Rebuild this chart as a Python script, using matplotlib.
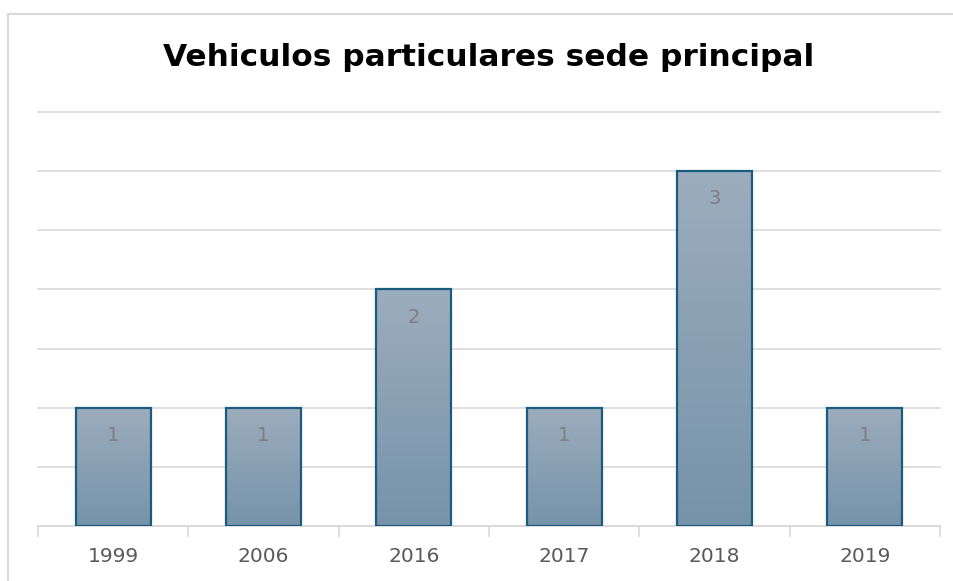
import matplotlib.pyplot as plt
import numpy as np
from matplotlib.lines import Line2D

# Data
years = ['1999', '2006', '2016', '2017', '2018', '2019']
vehicles = [1, 1, 2, 1, 3, 1]

W, H = 954, 581
fig = plt.figure(figsize=(W / 100, H / 100), dpi=100)
ax = fig.add_axes([38 / W, (H - 526) / H, (940 - 38) / W, (526 - 112) / H])

# light outer frame, only left and top edges are visible
fx, fy = 8.5 / W, 1 - 13.5 / H
fig.lines.append(Line2D([fx, fx], [0, fy], transform=fig.transFigure,
                        color='#d9d9d9', linewidth=1.5))
fig.lines.append(Line2D([fx, 1.01], [fy, fy], transform=fig.transFigure,
                        color='#d9d9d9', linewidth=1.5))

x = np.arange(len(years))
bars = ax.bar(x, vehicles, width=0.5, color='none', edgecolor='#1b5c7e',
              linewidth=1.6, zorder=3)

# vertical gradient fill, lighter on top
grad = np.linspace(0, 1, 256).reshape(-1, 1)
cmap = plt.matplotlib.colors.LinearSegmentedColormap.from_list(
    'g', ['#7693aa', '#9cadbd'])
for b in bars:
    x0, y0 = b.get_x(), b.get_y()
    im = ax.imshow(grad, cmap=cmap, origin='lower', aspect='auto',
                   extent=[x0, x0 + b.get_width(), y0, y0 + b.get_height()],
                   zorder=2)
    im.set_clip_path(b)

for xi, v in zip(x, vehicles):
    ax.text(xi, v - 0.235, str(v), ha='center', va='center',
            fontsize=14, color='#7f7f7f', zorder=4)

ax.set_xlim(-0.5, len(years) - 0.5)
ax.set_ylim(0, 3.5)
ax.set_yticks(np.arange(0, 3.51, 0.5))
ax.yaxis.grid(True, color='#d9d9d9', linewidth=1.2, zorder=0, clip_on=False)
ax.set_yticklabels([])
ax.tick_params(axis='y', length=0)

ax.set_xticks(x)
ax.set_xticklabels(years, fontsize=14.5, color='#595959')
ax.set_xticks(np.arange(-0.5, len(years)), minor=True)
ax.tick_params(axis='x', which='major', length=0, pad=15)
ax.tick_params(axis='x', which='minor', length=8, color='#d9d9d9', width=1.2)

for s in ['top', 'right', 'left']:
    ax.spines[s].set_visible(False)
ax.spines['bottom'].set_color('#d9d9d9')
ax.spines['bottom'].set_linewidth(1.2)

fig.text(489 / W, 1 - 57 / H, 'Vehiculos particulares sede principal',
         ha='center', va='center', fontsize=22.5, fontweight='bold',
         color='black')

fig.savefig('out.png', dpi=100)
